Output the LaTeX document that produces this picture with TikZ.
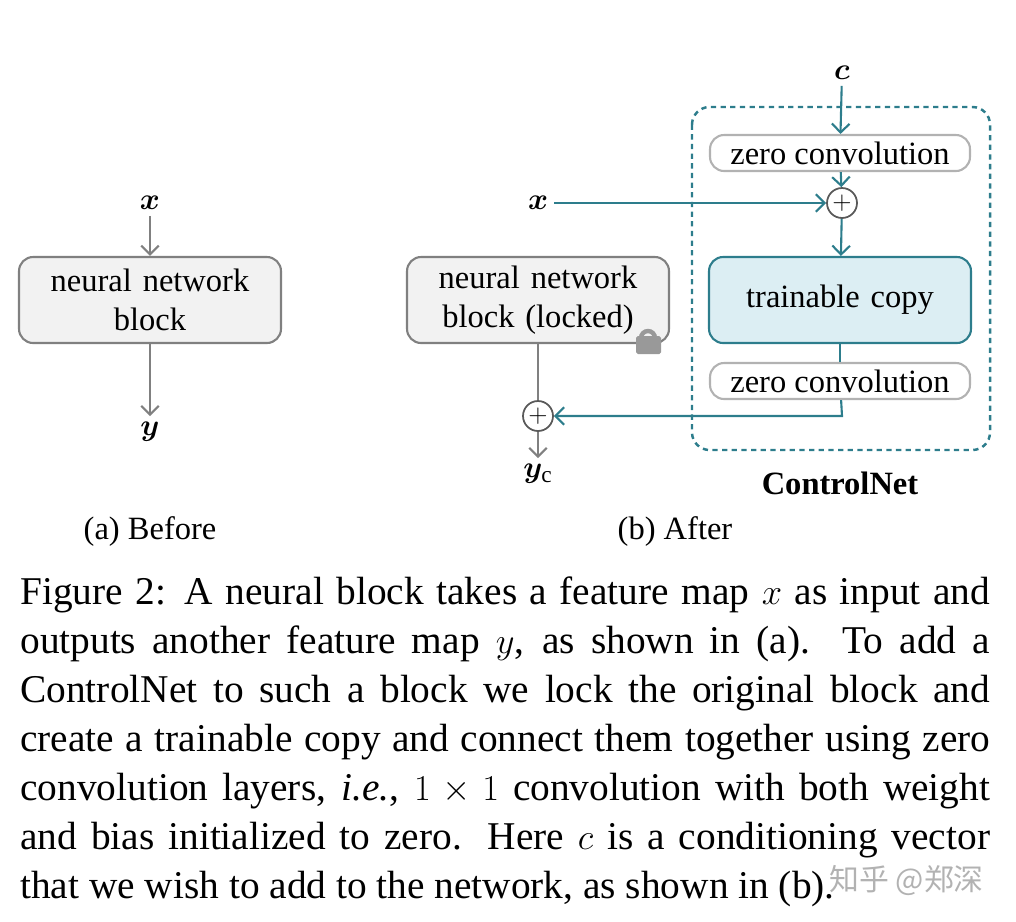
\documentclass[tikz,border=0pt]{standalone}
\usepackage{amsmath}
\usepackage{amssymb}
\usepackage{bm}
\usepackage{fontspec}
\setmainfont{Liberation Serif}
\newfontfamily\cjk{Noto Sans CJK SC}
\usepackage{tikz}
\usetikzlibrary{positioning, arrows.meta}
\definecolor{cnteal}{RGB}{45,125,140}
\definecolor{cnblue}{RGB}{220,238,243}
\tikzset{
  blk/.style={draw=gray, fill=gray!10, rounded corners=8pt, line width=1.2pt, minimum width=5.24cm, text width=5cm, align=center, minimum height=1.72cm, font=\fontsize{18.5}{22}\selectfont},
  zc/.style={draw=gray!60, rounded corners=8pt, line width=1.2pt, minimum width=5.2cm, minimum height=0.72cm, inner sep=1pt, font=\fontsize{18.5}{22}\selectfont},
  sumn/.style={circle, draw=gray!70!black, line width=1pt, minimum size=0.6cm, inner sep=0pt, font=\fontsize{15}{15}\selectfont},
  lbl/.style={font=\fontsize{19}{20}\selectfont},
  arr/.style={-{Straight Barb[length=5pt]}, gray, line width=1.2pt},
  tarr/.style={-{Straight Barb[length=5pt]}, cnteal, line width=1.2pt}
}
\begin{document}
\begin{tikzpicture}[x=0.02cm, y=-0.02cm]
  \useasboundingbox (0,0) rectangle (1016,921);
  % (a) before
  \node[lbl] (xa) at (150,203) {$\bm{x}$};
  \node[blk] (nna) at (150,300) {neural network\\block};
  \node[lbl] (ya) at (150,432) {$\bm{y}$};
  \draw[arr] (xa) -- (nna);
  \draw[arr] (nna) -- (ya);
  % (b) after
  \node[lbl] (xb) at (538,203) {$\bm{x}$};
  \node[blk] (nnb) at (538,300) {neural network\\block (locked)};
  \node[sumn] (sumb) at (538,416) {$+$};
  \node[lbl] (yb) at (538,474) {$\bm{y}_{\mathrm{c}}$};
  \draw[gray, line width=1.2pt] (nnb) -- (sumb);
  \draw[arr] (sumb) -- (yb);
  % lock
  \draw[gray!80, line width=2.5pt] (641,338) arc (180:360:7);
  \fill[gray!80, rounded corners=1pt] (636,336) rectangle (661,354);
  % controlnet
  \draw[cnteal, line width=1.4pt, dashed, dash pattern=on 3pt off 2.5pt, rounded corners=10pt] (692,107) rectangle (990,450);
  \node[lbl] (c) at (842,73) {$\bm{c}$};
  \node[zc] (zct) at (840,153) {zero convolution};
  \node[sumn] (sumt) at (842,203) {$+$};
  \node[blk, draw=cnteal, fill=cnblue] (tc) at (840,300) {trainable copy};
  \node[zc] (zcb) at (840,381) {zero convolution};
  \coordinate (corner) at (842,416);
  \draw[tarr] (c) -- (zct);
  \draw[tarr] (zct) -- (sumt);
  \draw[tarr] (sumt) -- (tc);
  \draw[cnteal, line width=1.2pt] (tc) -- (zcb);
  \draw[tarr] (zcb) -- (corner) -- (sumb);
  \draw[tarr] (xb) -- (sumt);
  \node[font=\fontsize{18.5}{20}\selectfont\bfseries] (cnlbl) at (840,483) {ControlNet};
  % subcaptions
  \node[font=\fontsize{18.5}{20}\selectfont] (capa) at (150,531) {(a) Before};
  \node[font=\fontsize{18.5}{20}\selectfont] (capb) at (675,531) {(b) After};
  % caption
  \node[anchor=north west, inner sep=0pt, text width=19.4cm, align=justify, font=\fontsize{22.4}{27.9}\selectfont] (cap) at (20,576)
    {Figure 2: A neural block takes a feature map $x$ as input and\linebreak
     outputs another feature map $y$, as shown in (a).\ \ To add a\linebreak
     ControlNet to such a block we lock the original block and\linebreak
     create a trainable copy and connect them together using zero\linebreak
     convolution layers, \textit{i.e.}, $1\times1$ convolution with both weight\linebreak
     and bias initialized to zero. Here $c$ is a conditioning vector\linebreak
     that we wish to add to the network, as shown in (b).};
  \node[anchor=east, gray!60, font=\cjk\fontsize{17}{20}\selectfont] (wm) at (990,880) {知乎 @郑深};
\end{tikzpicture}
\end{document}
